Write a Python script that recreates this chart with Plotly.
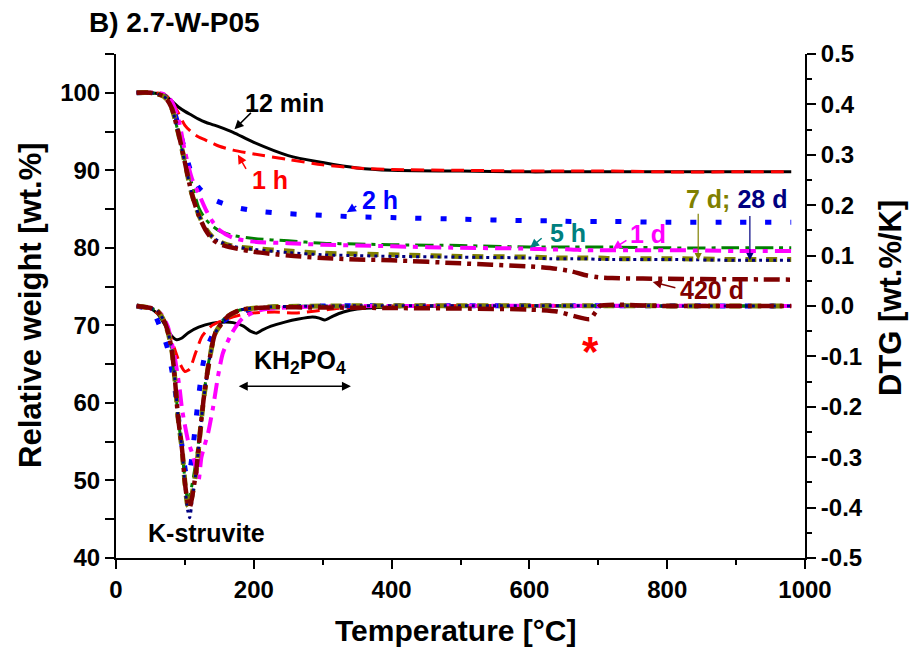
import plotly.graph_objects as go

FONT = "Liberation Sans, Arial, sans-serif"

# ---------------- TG data (left axis, wt.%) ----------------
T_TG = [30, 50, 70, 80, 90, 100, 110, 120, 130, 140, 150, 170, 200, 250, 300,
        350, 400, 500, 600, 630, 660, 680, 700, 720, 800, 900, 980]
tg_12min = [100, 100, 99.7, 99.0, 98.2, 97.6, 97.1, 96.6, 96.2, 95.9, 95.6, 94.9, 93.6, 91.9, 91.0,
            90.3, 90.0, 89.9, 89.8, 89.8, 89.8, 89.8, 89.8, 89.8, 89.8, 89.8, 89.8]
tg_1h = [100, 100, 99.8, 99.0, 97.5, 95.8, 94.9, 94.3, 93.9, 93.5, 93.1, 92.6, 92.1, 91.4, 90.7,
         90.3, 90.1, 90.0, 89.9, 89.9, 89.9, 89.9, 89.9, 89.9, 89.8, 89.8, 89.8]
tg_2h = [100, 100, 99.6, 98.5, 96.0, 92.5, 89.5, 87.8, 86.9, 86.3, 85.9, 85.3, 84.8, 84.4, 84.2,
         84.0, 83.9, 83.7, 83.5, 83.5, 83.4, 83.4, 83.4, 83.4, 83.3, 83.3, 83.3]
tg_5h = [100, 100, 99.5, 98.2, 95.0, 91.2, 88.3, 85.2, 83.7, 82.8, 82.2, 81.6, 81.2, 80.9, 80.6,
         80.5, 80.4, 80.3, 80.1, 80.1, 80.1, 80.1, 80.1, 80.1, 80.0, 80.0, 80.0]
tg_1d = [100, 100, 99.8, 99.0, 96.8, 92.5, 89.0, 87.0, 85.0, 83.4, 82.3, 81.3, 80.8, 80.6, 80.4,
         80.3, 80.2, 80.0, 79.9, 79.8, 79.8, 79.7, 79.7, 79.7, 79.7, 79.6, 79.6]
tg_7d = [100, 100, 99.5, 98.2, 95.0, 91.0, 87.0, 84.3, 82.5, 81.4, 80.8, 80.2, 79.9, 79.6, 79.3,
         79.2, 79.1, 78.9, 78.8, 78.7, 78.7, 78.7, 78.7, 78.6, 78.6, 78.5, 78.5]
tg_28d = [100, 100, 99.5, 98.2, 95.0, 91.0, 87.0, 84.3, 82.5, 81.4, 80.8, 80.2, 79.8, 79.4, 79.1,
          79.0, 78.9, 78.8, 78.7, 78.6, 78.6, 78.6, 78.5, 78.5, 78.5, 78.4, 78.4]
tg_420d = [100, 100, 99.5, 98.2, 95.0, 91.0, 87.0, 84.2, 82.3, 81.1, 80.5, 80.0, 79.5, 79.0, 78.7,
           78.5, 78.4, 78.0, 77.6, 77.4, 77.0, 76.5, 76.2, 76.1, 76.0, 75.95, 75.9]

# ---------------- DTG data (right axis, wt.%/K) ----------------
T_dtg_12min = [30, 50, 60, 70, 80, 88, 95, 105, 120, 140, 155, 170, 185, 195, 204, 212, 225,
               245, 265, 285, 295, 303, 315, 330, 350, 380, 420, 500, 700, 980]
dtg_12min = [0, -0.005, -0.015, -0.035, -0.058, -0.067, -0.064, -0.053, -0.042, -0.034, -0.032,
             -0.033, -0.040, -0.050, -0.054, -0.048, -0.040, -0.032, -0.026, -0.022, -0.024,
             -0.028, -0.020, -0.012, -0.006, -0.003, -0.001, 0, 0, 0]

T_dtg_1h = [30, 50, 65, 75, 85, 93, 100, 107, 115, 125, 140, 160, 190, 230, 260, 290, 320, 350, 400, 980]
dtg_1h = [0, -0.005, -0.02, -0.045, -0.085, -0.115, -0.13, -0.125, -0.095, -0.06, -0.038, -0.026,
          -0.015, -0.012, -0.014, -0.010, -0.005, -0.002, 0, 0]

T_dtg_2h = [30, 45, 55, 65, 75, 85, 95, 103, 108, 115, 119, 127, 136, 148, 170, 190, 220, 300, 980]
dtg_2h = [0, -0.005, -0.015, -0.045, -0.085, -0.16, -0.27, -0.34, -0.32, -0.24, -0.19, -0.11,
          -0.07, -0.038, -0.018, -0.008, -0.003, 0, 0]

T_dtg_1d = [30, 50, 65, 75, 85, 92, 96, 105, 110, 116, 120, 124, 134, 141, 148, 155, 168, 184, 210, 260, 980]
dtg_1d = [0, -0.004, -0.015, -0.04, -0.10, -0.16, -0.206, -0.27, -0.29, -0.32, -0.345, -0.30,
          -0.25, -0.20, -0.14, -0.094, -0.054, -0.024, -0.008, -0.002, 0]

T_dtg_main = [30, 50, 60, 70, 76, 81, 86, 90, 96, 100, 104, 107, 111, 117, 122, 127, 134, 144,
              161, 180, 220, 300, 980]
dtg_5h = [0, -0.004, -0.01, -0.03, -0.055, -0.087, -0.153, -0.22, -0.286, -0.345, -0.385, -0.375,
          -0.35, -0.30, -0.245, -0.18, -0.115, -0.052, -0.02, -0.008, -0.002, 0, 0]
dtg_7d = [0, -0.004, -0.01, -0.03, -0.055, -0.087, -0.153, -0.22, -0.286, -0.35, -0.395, -0.40,
          -0.37, -0.32, -0.252, -0.187, -0.12, -0.054, -0.022, -0.008, -0.002, 0, 0]
dtg_28d = [0, -0.004, -0.01, -0.03, -0.055, -0.087, -0.153, -0.22, -0.286, -0.355, -0.405, -0.42,
           -0.38, -0.32, -0.252, -0.187, -0.12, -0.054, -0.022, -0.008, -0.002, 0, 0]

T_dtg_420d = [30, 50, 60, 70, 76, 81, 86, 90, 96, 100, 104, 107, 111, 117, 122, 127, 134, 144,
              161, 180, 220, 300, 400, 500, 600, 640, 665, 688, 696, 702, 800, 980]
dtg_420d = [0, -0.004, -0.01, -0.03, -0.055, -0.087, -0.153, -0.22, -0.286, -0.35, -0.39, -0.40,
            -0.375, -0.32, -0.252, -0.187, -0.12, -0.054, -0.022, -0.008, -0.003, -0.003, -0.004,
            -0.005, -0.007, -0.011, -0.02, -0.026, -0.012, 0, 0, 0]

# ---------------- series styles ----------------
tg_series = [
    ("12 min", tg_12min, "#000000", 3, "solid"),
    ("1 h", tg_1h, "#FF0000", 3, "13px,7px"),
    ("2 h", tg_2h, "#0000FF", 5, "6px,19px"),
    ("5 h", tg_5h, "#008000", 3, "18px,6px,4px,6px"),
    ("1 d", tg_1d, "#FF00FF", 4, "16px,7px,5px,7px"),
    ("7 d", tg_7d, "#808000", 5, "11px,10px"),
    ("28 d", tg_28d, "#000080", 3, "3px,4px"),
    ("420 d", tg_420d, "#800000", 4.5, "16px,6px,4px,6px"),
]
dtg_series = [
    ("12 min", T_dtg_12min, dtg_12min, "#000000", 3, "solid"),
    ("1 h", T_dtg_1h, dtg_1h, "#FF0000", 3, "13px,7px"),
    ("2 h", T_dtg_2h, dtg_2h, "#0000FF", 5, "6px,19px"),
    ("5 h", T_dtg_main, dtg_5h, "#008000", 3, "18px,6px,4px,6px"),
    ("1 d", T_dtg_1d, dtg_1d, "#FF00FF", 4, "16px,7px,5px,7px"),
    ("7 d", T_dtg_main, dtg_7d, "#808000", 5, "11px,10px"),
    ("28 d", T_dtg_main, dtg_28d, "#000080", 3, "3px,4px"),
    ("420 d", T_dtg_420d, dtg_420d, "#800000", 4.5, "16px,6px,4px,6px"),
]

fig = go.Figure()
for name, vals, col, w, dash in tg_series:
    fig.add_trace(go.Scatter(x=T_TG, y=vals, mode="lines", name=name, yaxis="y",
                             line=dict(color=col, width=w, dash=dash, shape="spline", smoothing=0.8)))
for name, tx, vals, col, w, dash in dtg_series:
    fig.add_trace(go.Scatter(x=tx, y=vals, mode="lines", name=name + " DTG", yaxis="y2",
                             line=dict(color=col, width=w, dash=dash, shape="spline", smoothing=0.6)))

# ---------------- axes ----------------
L, R, T, B = 116, 112, 54, 91
PW, PH = 917 - L - R, 649 - T - B

def px(xp):
    return (xp - L) / PW

def py(yp):
    return (649 - B - yp) / PH

tickfont = dict(family=FONT, size=24, color="black", weight="bold")

x_ticks = [0, 200, 400, 600, 800, 1000]
y_ticks = [40, 50, 60, 70, 80, 90, 100]
y2_ticks = [-0.5, -0.4, -0.3, -0.2, -0.1, 0.0, 0.1, 0.2, 0.3, 0.4, 0.5]
y2_labels = ["-0.5", "-0.4", "-0.3", "-0.2", "-0.1", "0.0", "0.1", "0.2", "0.3", "0.4", "0.5"]

fig.update_layout(
    width=917, height=649,
    margin=dict(l=L, r=R, t=T, b=B, pad=0),
    paper_bgcolor="white", plot_bgcolor="white",
    showlegend=False,
    xaxis=dict(range=[0, 1000], showline=True, linecolor="black", linewidth=2,
               ticks="outside", ticklen=9, tickwidth=2, tickcolor="black",
               tickvals=x_ticks, ticktext=[str(v) for v in x_ticks], tickfont=tickfont,
               showgrid=False, zeroline=False,
               minor=dict(tickvals=[100, 300, 500, 700, 900], ticks="outside", ticklen=5,
                          tickwidth=2, tickcolor="black", showgrid=False)),
    yaxis=dict(range=[40, 105], showline=True, linecolor="black", linewidth=2,
               ticks="outside", ticklen=9, tickwidth=2, tickcolor="black",
               tickvals=y_ticks, ticktext=[str(v) for v in y_ticks], tickfont=tickfont,
               showgrid=False, zeroline=False,
               minor=dict(tickvals=[45, 55, 65, 75, 85, 95, 105], ticks="outside", ticklen=9,
                          tickwidth=2, tickcolor="black", showgrid=False)),
    yaxis2=dict(range=[-0.5, 0.5], overlaying="y", side="right", anchor="x",
                showline=True, linecolor="black", linewidth=2,
                ticks="outside", ticklen=9, tickwidth=2, tickcolor="black",
                tickvals=y2_ticks, ticktext=y2_labels, tickfont=tickfont,
                showgrid=False, zeroline=False,
                minor=dict(tickvals=[-0.45, -0.35, -0.25, -0.15, -0.05, 0.05, 0.15, 0.25, 0.35, 0.45],
                           ticks="outside", ticklen=5, tickwidth=2, tickcolor="black", showgrid=False)),
)

ann = []

def label(text, x, y, color, yref="y", size=25, xanchor="center"):
    ann.append(dict(text=text, x=x, y=y, xref="x", yref=yref, showarrow=False,
                    xanchor=xanchor, yanchor="middle",
                    font=dict(family=FONT, size=size, color=color, weight="bold")))

def arrow(x, y, ax, ay, color, yref="y", width=1.5, side="end"):
    ann.append(dict(text="", x=x, y=y, ax=ax, ay=ay, xref="x", yref=yref, axref="x", ayref=yref,
                    showarrow=True, arrowhead=2, arrowsize=1.2, arrowwidth=width,
                    arrowcolor=color, arrowside=side, standoff=0, startstandoff=0))

# curve labels
label("12 min", 245, 98.7, "#000000")
arrow(172, 95.3, 198, 97.6, "#000000")
label("1 h", 224, 88.7, "#FF0000")
arrow(177, 92.0, 190, 90.0, "#FF0000")
label("2 h", 383, 86.2, "#0000FF")
arrow(335, 84.6, 351, 85.5, "#0000FF")
label("5 h", 656, 81.9, "#008080")
arrow(601, 80.0, 620, 81.4, "#008080")
label("1 d", 772, 81.8, "#FF00FF")
arrow(721, 79.85, 743, 81.1, "#FF00FF")
label("<span style='color:#808000'>7 d;</span> <span style='color:#000080'>28 d</span>",
      901, 86.3, "#808000")
arrow(845, 78.4, 845, 84.6, "#808000", width=1.2)
arrow(920, 78.4, 920, 84.3, "#000080", width=1.2)
label("420 d", 865, 74.6, "#800000")
arrow(779, 75.6, 814, 74.8, "#800000")

# DTG annotations
label("KH<sub>2</sub>PO<sub>4</sub>", 267, -0.112, "#000000", yref="y2")
arrow(341, -0.159, 176, -0.159, "#000000", yref="y2", width=1.5, side="end+start")
label("K-struvite", 132, -0.45, "#000000", yref="y2")
label("*", 689, -0.09, "#FF0000", yref="y2", size=42)

# title and axis titles
ann.append(dict(text="B) 2.7-W-P05", x=px(87), y=py(22), xref="paper", yref="paper",
                xanchor="left", yanchor="middle", showarrow=False,
                font=dict(family=FONT, size=28, color="black", weight="bold")))
ann.append(dict(text="Relative weight [wt.%]", x=px(30), y=py(305), xref="paper", yref="paper",
                xanchor="center", yanchor="middle", textangle=-90, showarrow=False,
                font=dict(family=FONT, size=31, color="black", weight="bold")))
ann.append(dict(text="DTG [wt.%/K]", x=px(890), y=py(298), xref="paper", yref="paper",
                xanchor="center", yanchor="middle", textangle=-90, showarrow=False,
                font=dict(family=FONT, size=31, color="black", weight="bold")))
ann.append(dict(text="Temperature [°C]", x=px(455), y=py(630), xref="paper", yref="paper",
                xanchor="center", yanchor="middle", showarrow=False,
                font=dict(family=FONT, size=30, color="black", weight="bold")))

fig.update_layout(annotations=ann)
fig.write_html("out.html")
